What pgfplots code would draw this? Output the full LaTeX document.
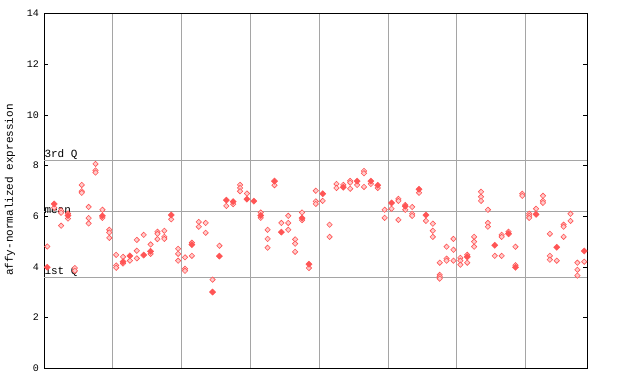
\documentclass[border=0pt]{standalone}
\usepackage{pgfplots}
\pgfplotsset{compat=1.18}
\usepackage{pgfplotstable}
\usepackage{fontspec}
\setmainfont{Liberation Sans}
\newfontfamily\monofont{Liberation Mono}
\definecolor{ptred}{RGB}{255,85,85}
\definecolor{gridgray}{RGB}{165,165,165}
\pgfplotstableread{
x y
0 4.81
1 6.34
2 6.23
2 6.14
2 5.63
3 6.11
3 5.91
4 3.96
4 3.85
5 7.24
5 6.99
5 6.93
6 6.37
6 5.93
6 5.72
7 8.07
7 7.81
7 7.73
8 6.26
8 5.94
9 5.47
9 5.36
9 5.15
10 4.48
10 4.06
10 3.97
11 4.40
11 4.14
12 4.25
13 5.07
13 4.64
13 4.34
14 5.27
15 4.89
15 4.52
16 5.39
16 5.31
16 5.10
17 5.43
17 5.19
17 5.11
18 5.88
19 4.72
19 4.52
19 4.25
20 4.38
20 3.93
20 3.85
21 4.96
21 4.44
22 5.78
22 5.59
23 5.74
23 5.35
24 3.50
25 4.84
26 6.41
27 6.48
28 7.24
28 7.12
28 6.99
29 6.90
31 6.15
31 5.94
32 5.47
32 5.11
32 4.76
33 7.23
34 5.74
35 6.02
35 5.74
35 5.47
36 5.09
36 4.92
36 4.60
37 6.15
37 5.85
38 3.96
39 7.01
39 6.59
39 6.49
40 6.61
41 5.67
41 5.19
42 7.28
42 7.12
43 7.24
44 7.40
44 7.33
44 7.09
45 7.24
46 7.79
46 7.70
46 7.16
47 7.28
48 7.12
49 6.26
49 5.94
50 6.30
51 6.69
51 6.61
51 5.86
52 6.45
52 6.26
53 6.37
53 6.10
53 6.02
54 6.93
55 5.82
56 5.71
56 5.43
56 5.19
57 4.17
57 3.69
57 3.62
57 3.54
58 4.80
58 4.33
58 4.25
59 5.11
59 4.68
59 4.25
60 4.36
60 4.25
60 4.09
61 4.48
61 4.17
62 5.19
62 5.00
62 4.80
63 6.97
63 6.77
63 6.61
64 6.26
64 5.74
64 5.59
65 4.44
66 5.27
66 5.19
66 4.44
67 5.39
68 4.80
68 4.07
69 6.89
69 6.81
70 6.10
70 6.02
70 5.94
71 6.30
72 6.81
72 6.61
72 6.53
73 5.31
73 4.44
73 4.29
74 4.25
75 5.67
75 5.59
75 5.19
76 6.10
76 5.82
77 4.17
77 3.89
77 3.66
78 4.21
}\opentable
\pgfplotstableread{
x y
0 3.99
1 6.49
3 6.03
8 6.02
11 4.21
12 4.44
14 4.47
15 4.62
18 6.05
21 4.88
24 3.01
25 4.43
26 6.64
27 6.58
29 6.68
30 6.60
31 6.03
33 7.39
34 5.38
37 5.93
38 4.11
40 6.89
43 7.15
45 7.39
47 7.39
48 7.23
50 6.53
52 6.40
54 7.07
55 6.05
61 4.40
65 4.86
67 5.31
68 3.99
71 6.08
74 4.78
78 4.63
}\filledtable
\begin{document}
\begin{tikzpicture}
\begin{axis}[
  at={(44.3pt,15.7pt)}, anchor=south west,
  width=543pt, height=354.6pt, scale only axis,
  xmin=-0.44, xmax=78.44, ymin=0, ymax=14,
  xtick={9.5,19.5,29.5,39.5,49.5,59.5,69.5},
  xticklabels={},
  x tick style={draw=none},
  xmajorgrids,
  grid style={gridgray, line width=0.9pt},
  ytick={0,2,4,6,8,10,12,14},
  y tick style={black, line width=0.8pt},
  major tick length=4pt,
  tick align=inside,
  yticklabel style={font=\monofont\fontsize{10}{10}\selectfont, xshift=-2pt},
  /pgf/number format/assume math mode=true,
  extra y ticks={3.60,6.21,8.20},
  extra y tick labels={},
  extra y tick style={ymajorgrids, major tick length=0pt},
  axis line style={black, line width=0.9pt},
  clip=false,
]
\addplot[only marks, mark=square*, mark size=1.9pt,
  mark options={rotate=45, draw=ptred, fill=ptred!30, line width=0.6pt}] table {\opentable};
\addplot[only marks, mark=square*, mark size=2.2pt,
  mark options={rotate=45, draw=ptred, fill=ptred, line width=0.4pt}] table {\filledtable};
\node[anchor=south west, inner sep=0pt, font=\monofont\fontsize{11}{11}\selectfont] at (axis cs:-0.44,8.22) {3rd Q};
\node[anchor=south west, inner sep=0pt, font=\monofont\fontsize{11}{11}\selectfont] at (axis cs:-0.44,6.10) {mean};
\node[anchor=south west, inner sep=0pt, font=\monofont\fontsize{11}{11}\selectfont] at (axis cs:-0.44,3.62) {1st Q};
\end{axis}
\node[rotate=90, font=\monofont\fontsize{11}{11}\selectfont] at (10pt,194pt) {affy-normalized expression};
\pgfresetboundingbox
\path (0,0) rectangle (640pt,384pt);
\end{tikzpicture}
\end{document}
